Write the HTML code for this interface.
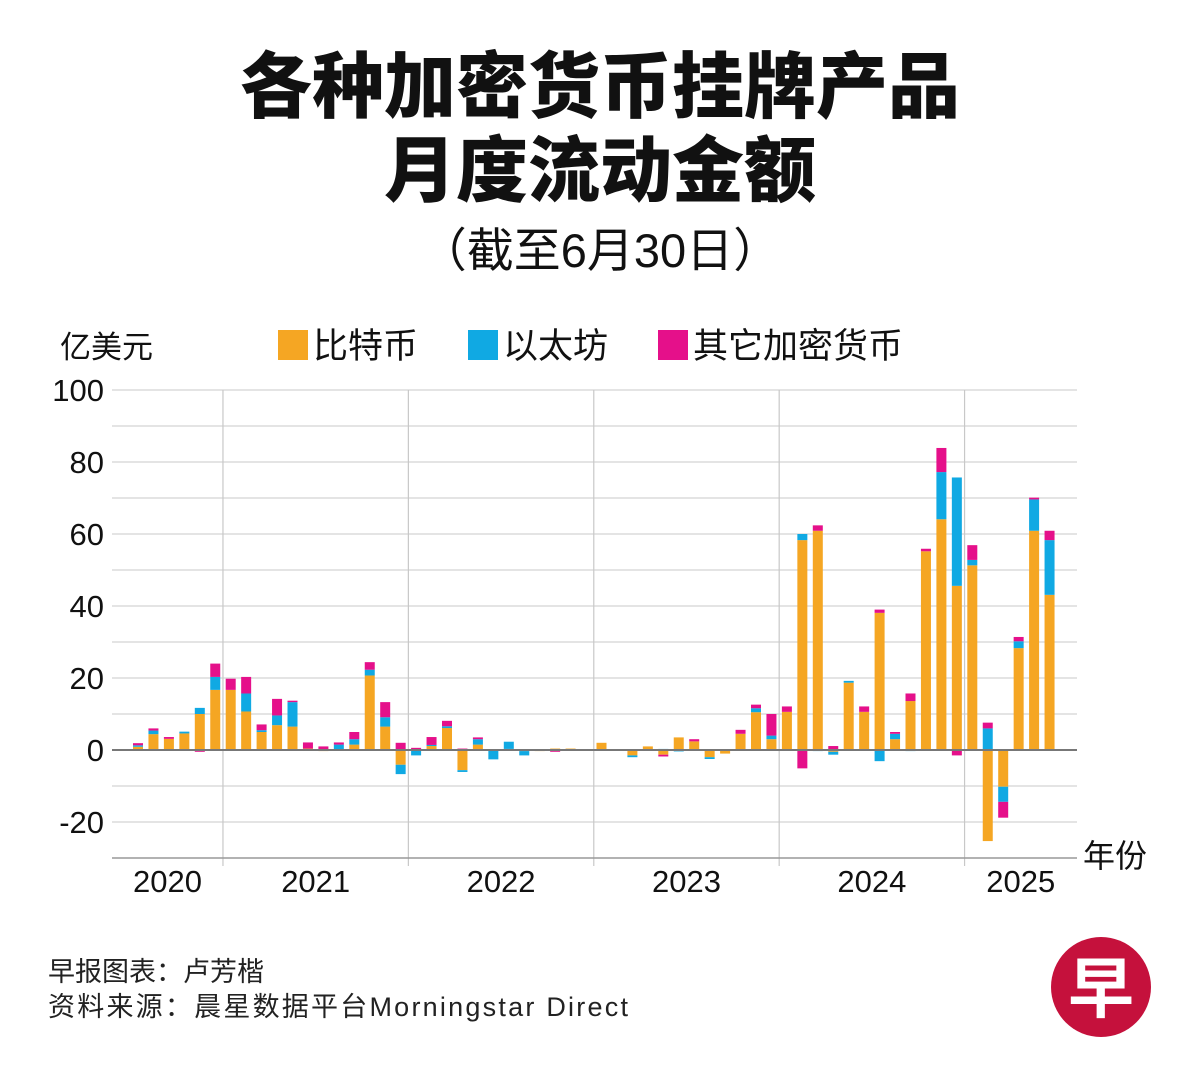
<!DOCTYPE html>
<html><head><meta charset="utf-8">
<style>
body{margin:0;background:#fff;width:1200px;height:1084px;overflow:hidden;font-family:"Liberation Sans","Noto Sans CJK SC",sans-serif;}
</style></head>
<body>
<svg id="chart" width="1200" height="1084" xmlns="http://www.w3.org/2000/svg" font-family="Liberation Sans, Noto Sans CJK SC, sans-serif">
<text x="600" y="112" text-anchor="middle" font-size="72" font-weight="900" fill="#111">各种加密货币挂牌产品</text>
<text x="600" y="196" text-anchor="middle" font-size="72" font-weight="900" fill="#111">月度流动金额</text>
<text x="600" y="267" text-anchor="middle" font-size="47" fill="#111">（截至6月30日）</text>
<text x="60" y="358" font-size="31" fill="#111">亿美元</text>
<g>
<rect x="278" y="330" width="30" height="30" fill="#f5a623"/>
<text x="313" y="358" font-size="35" fill="#111">比特币</text>
<rect x="468" y="330" width="30" height="30" fill="#10a9e3"/>
<text x="503" y="358" font-size="35" fill="#111">以太坊</text>
<rect x="658" y="330" width="30" height="30" fill="#e5108a"/>
<text x="693" y="358" font-size="35" fill="#111">其它加密货币</text>
</g>
<g id="grid"></g>
<g id="bars"></g>
<g id="axes"></g>
<text x="1083" y="867" font-size="32" fill="#111">年份</text>
<text x="48" y="981" font-size="27" fill="#222">早报图表：卢芳楷</text>
<text x="48" y="1016" font-size="27" fill="#222" textLength="580" lengthAdjust="spacing">资料来源：晨星数据平台Morningstar Direct</text>
<g>
<circle cx="1101" cy="987" r="50" fill="#c5113c"/>
<text x="1101" y="1012" text-anchor="middle" font-size="66" font-weight="bold" fill="#fff">早</text>
</g>
</svg>
<script>
const years = ["2020","2021","2022","2023","2024","2025"];
const yTicks = [-20,0,20,40,60,80,100];
const btc = [0.9,4.4,3.1,4.6,10,16.7, 16.7,10.7,5,6.9,6.5,0.4,-0.3,0.2,1.5,20.7,6.5,-4.1,
 0,1.1,6.1,-5.6,1.5,0,0.3,-0.3,-0.3,0.4,0.4,-0.2,
 2.0,-0.2,-1.5,1.0,-1.3,3.5,2.4,-2.0,-1.0,4.5,10.5,3.0,
 10.6,58.3,60.9,-0.5,18.7,10.6,38.1,3,13.6,55.2,64.1,45.6,
 51.3,-25.3,-10.2,28.3,60.9,43.1];
const eth = [0.4,1.0,0,0.5,1.7,3.6, 0,5,0.5,2.7,6.8,0,0,1.3,1.5,1.6,2.6,-2.6,
 -1.5,0.3,0.5,-0.5,1.5,-2.6,2.0,-1.2,0,0,0,0,
 0,0,-0.5,0,0.3,-0.4,0,-0.5,0,0,1.1,1.0,
 0,1.7,-0.3,-0.8,0.5,0,-3.1,1.5,-0.3,0,13.1,30.1,
 1.5,6.0,-4.2,1.9,8.7,15.2];
const other = [0.6,0.6,0.5,0,-0.5,3.7, 3.1,4.6,1.6,4.6,0.4,1.7,1.0,0.6,2.0,2.1,4.2,2.0,
 0.6,2.2,1.5,0.4,0.5,0,0,0,0,-0.5,0,0,
 0,0,0,0,-0.5,0,0.6,0,0,1.1,1.0,6.0,
 1.5,-5.1,1.5,1.1,0,1.5,0.9,0.5,2.1,0.7,6.7,-1.5,
 4.1,1.6,-4.4,1.2,0.5,2.6];
const NS="http://www.w3.org/2000/svg";
const y=v=>750-v*3.6;
const x=i=>138+i*15.45;
const grid=document.getElementById('grid'), bars=document.getElementById('bars'), axes=document.getElementById('axes');
function mk(tag,attrs,parent){const e=document.createElementNS(NS,tag);for(const k in attrs)e.setAttribute(k,attrs[k]);parent.appendChild(e);return e;}
for(let v=-20;v<=100;v+=10){
 const l=mk('line',{x1:112,x2:1077,y1:y(v),y2:y(v),stroke:'#d4d4d4','stroke-width':1.2},grid);
 
 
}
yTicks.forEach(v=>{
 const t=mk('text',{x:104,y:y(v)+11,'text-anchor':'end','font-size':31,fill:'#111'},axes);
 t.textContent=v;
 
 
});
const divs=[];
for(let k=1;k<years.length;k++){divs.push((x(6+12*(k-1)-1)+x(6+12*(k-1)))/2);}
divs.forEach(d=>{
 const l=mk('line',{x1:d,x2:d,y1:390,y2:866,stroke:'#c8c8c8','stroke-width':1.2},grid);
 
 
});
const bounds=[112,...divs,1077];
years.forEach((yr,k)=>{
 const t=mk('text',{x:(bounds[k]+bounds[k+1])/2,y:892,'text-anchor':'middle','font-size':31,fill:'#111'},axes);
 t.textContent=yr;
 
 
});
const series=[[btc,'#f5a623','bar-btc'],[eth,'#10a9e3','bar-eth'],[other,'#e5108a','bar-other']];
btc.forEach((_,i)=>{
 let pos=0,neg=0;
 series.forEach(([arr,col,nm])=>{
  const v=arr[i]; if(!v)return;
  let y0,y1;
  if(v>0){y0=y(pos+v);y1=y(pos);pos+=v;}else{y0=y(neg);y1=y(neg+v);neg+=v;}
  const r=mk('rect',{x:x(i)-5,y:y0,width:10,height:y1-y0,fill:col},bars);
  
  
 });
});
const z=mk('line',{x1:112,x2:1077,y1:750,y2:750,stroke:'#777','stroke-width':2},axes);


const b=mk('line',{x1:112,x2:1077,y1:858,y2:858,stroke:'#999','stroke-width':1.5},axes);


</script>
</body></html>
